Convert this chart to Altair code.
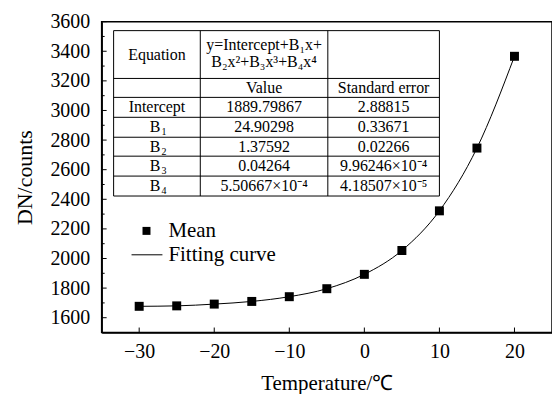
import altair as alt
import pandas as pd

# ---- data ----
temps = [-30, -25, -20, -15, -10, -5, 0, 5, 10, 15, 20]
dn_mean = [1677, 1680, 1692, 1710, 1742, 1796, 1893, 2054, 2322, 2746, 3366]

y_major = list(range(1600, 3601, 200))
y_minor = list(range(1700, 3501, 200))
x_major = [-30, -20, -10, 0, 10, 20]

eq_lines = ["y=Intercept+B\u2081x+", "B\u2082x\u00b2+B\u2083x\u00b3+B\u2084x\u2074"]
col_heads = ["Value", "Standard error"]
row_names = ["Intercept", "B", "B", "B", "B"]
row_subs = ["", "1", "2", "3", "4"]
values = ["1889.79867", "24.90298", "1.37592", "0.04264", "5.50667\u00d710\u207b\u2074"]
std_errs = ["2.88815", "0.33671", "0.02266", "9.96246\u00d710\u207b\u2074", "4.18507\u00d710\u207b\u2075"]

# ---- layout ----
W, H = 452, 312
FONT = "Liberation Serif"
XDOM = [-35, 25]
YDOM = [1500, 3600]
xs = alt.Scale(domain=XDOM, nice=False, zero=False)
ys = alt.Scale(domain=YDOM, nice=False, zero=False)

df = pd.DataFrame({"temp": temps, "dn": dn_mean})

ax_x = alt.Axis(
    values=x_major, ticks=False, grid=False, title="Temperature/\u2103", format="d",
    labelFontSize=20, titleFontSize=21, labelFont=FONT, titleFont=FONT,
    labelColor="black", titleColor="black", labelPadding=9, titlePadding=11,
    titleFontWeight="normal", domainColor="black", domainWidth=1.5,
    labelFlush=False, labelOverlap=False)
ax_y = alt.Axis(
    values=y_major, ticks=False, grid=False, title="DN/counts", format="d",
    labelFontSize=20, titleFontSize=22, labelFont=FONT, titleFont=FONT,
    labelColor="black", titleColor="black", labelPadding=12, titlePadding=13,
    titleFontWeight="normal", domainColor="black", domainWidth=1.5,
    labelFlush=False, labelOverlap=False)

curve = alt.Chart(df).mark_line(color="black", strokeWidth=1, interpolate="monotone").encode(
    x=alt.X("temp:Q", scale=xs, axis=ax_x), y=alt.Y("dn:Q", scale=ys, axis=ax_y))
pts = alt.Chart(df).mark_square(color="black", size=81, opacity=1).encode(
    x=alt.X("temp:Q", scale=xs, axis=ax_x), y=alt.Y("dn:Q", scale=ys, axis=ax_y))

ymaj = alt.Chart(pd.DataFrame({"dn": y_major})).mark_rule(color="black", strokeWidth=1).encode(
    y=alt.Y("dn:Q", scale=ys, axis=ax_y), x=alt.value(0), x2=alt.value(5))
ymin = alt.Chart(pd.DataFrame({"dn": y_minor})).mark_rule(color="black", strokeWidth=1).encode(
    y=alt.Y("dn:Q", scale=ys, axis=ax_y), x=alt.value(0), x2=alt.value(3))
xmaj = alt.Chart(pd.DataFrame({"temp": x_major})).mark_rule(color="black", strokeWidth=1).encode(
    x=alt.X("temp:Q", scale=xs, axis=ax_x), y=alt.value(H), y2=alt.value(H - 5))

# ---- legend (manual) ----
one = alt.Data(values=[{"a": 1}])
leg_sq = alt.Chart(one).mark_square(color="black", size=64, opacity=1).encode(
    x=alt.value(45), y=alt.value(210))
leg_line = alt.Chart(one).mark_rule(color="black", strokeWidth=1).encode(
    x=alt.value(30), x2=alt.value(61), y=alt.value(234))
leg_t1 = alt.Chart(one).mark_text(align="left", baseline="middle", font=FONT, fontSize=21, color="black").encode(
    x=alt.value(67), y=alt.value(210), text=alt.value("Mean"))
leg_t2 = alt.Chart(one).mark_text(align="left", baseline="middle", font=FONT, fontSize=21, color="black").encode(
    x=alt.value(67), y=alt.value(234), text=alt.value("Fitting curve"))

# ---- table ----
tx = [12, 99, 227, 339]
ty = [9, 57, 76, 96, 116, 135, 155, 175]
col_c = [(tx[i] + tx[i + 1]) / 2 for i in range(3)]
row_c = [(ty[i] + ty[i + 1]) / 2 for i in range(len(ty) - 1)]

hl = pd.DataFrame({"y": ty, "x1": tx[0], "x2": tx[-1]})
vl = pd.DataFrame({"x": tx, "y1": ty[0], "y2": ty[-1]})
hlines = alt.Chart(hl).mark_rule(color="black", strokeWidth=1).encode(
    y=alt.Y("y:Q", scale=None, axis=None), x=alt.X("x1:Q", scale=None, axis=None), x2="x2:Q")
vlines = alt.Chart(vl).mark_rule(color="black", strokeWidth=1).encode(
    x=alt.X("x:Q", scale=None, axis=None), y=alt.Y("y1:Q", scale=None, axis=None), y2="y2:Q")

cells = []
cells.append({"t": "Equation", "px": col_c[0], "py": row_c[0]})
cells.append({"t": eq_lines[0], "px": col_c[1], "py": row_c[0] - 10})
cells.append({"t": eq_lines[1], "px": col_c[1], "py": row_c[0] + 8})
for j, h in enumerate(col_heads):
    cells.append({"t": h, "px": col_c[j + 1], "py": row_c[1]})
for i in range(len(row_names)):
    r = row_c[i + 2]
    if row_subs[i]:
        cells.append({"t": row_names[i], "px": col_c[0] - 2, "py": r})
    else:
        cells.append({"t": row_names[i], "px": col_c[0], "py": r})
    cells.append({"t": values[i], "px": col_c[1], "py": r})
    cells.append({"t": std_errs[i], "px": col_c[2], "py": r})
cdf = pd.DataFrame(cells)
ctext = alt.Chart(cdf).mark_text(font=FONT, fontSize=16, color="black", baseline="middle", align="center").encode(
    x=alt.X("px:Q", scale=None, axis=None), y=alt.Y("py:Q", scale=None, axis=None), text="t:N")

subs = pd.DataFrame([{"t": row_subs[i], "px": col_c[0] + 7, "py": row_c[i + 2] + 5}
                     for i in range(len(row_subs)) if row_subs[i]])
stext = alt.Chart(subs).mark_text(font=FONT, fontSize=10, color="black", baseline="middle", align="center").encode(
    x=alt.X("px:Q", scale=None, axis=None), y=alt.Y("py:Q", scale=None, axis=None), text="t:N")

chart = alt.layer(
    curve, pts, ymaj, ymin, xmaj, leg_sq, leg_line, leg_t1, leg_t2, hlines, vlines, ctext, stext
).properties(
    width=W, height=H, padding={"left": 6, "top": 3, "right": 0, "bottom": 0},
    background="white"
).configure_view(stroke="black", strokeWidth=1.5).configure_axis(
    labelFont=FONT, titleFont=FONT, labelOverlap=False)

chart.save("out.html", embed_options={"renderer": "svg", "actions": False})
